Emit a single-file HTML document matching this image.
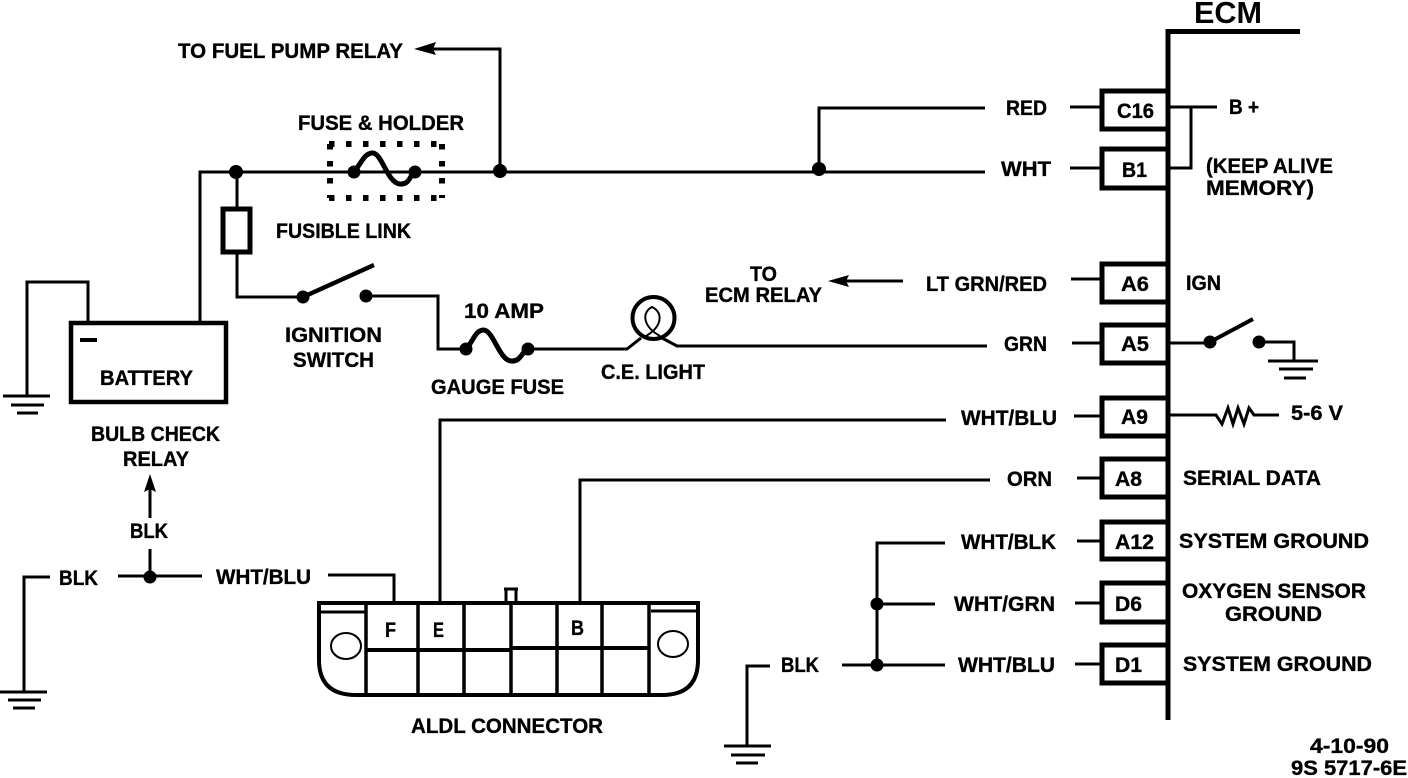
<!DOCTYPE html>
<html><head><meta charset="utf-8"><style>
html,body{margin:0;padding:0;background:#fff;width:1408px;height:778px;overflow:hidden}
svg{display:block}
text{font-family:"Liberation Sans",sans-serif;font-weight:bold;font-size:21px;fill:#000;stroke:#000;stroke-width:.35;}
.w{fill:none;stroke:#000;stroke-width:3}
.t{fill:none;stroke:#000;stroke-width:5}
.g{fill:none;stroke:#000;stroke-width:4}
</style></head><body>
<svg width="1408" height="778" viewBox="0 0 1408 778" xmlns="http://www.w3.org/2000/svg">
<!-- ECM -->
<path d="M1168 720V31.500H1300" fill="none" stroke="#000" stroke-width="5"/>
<text x="1194" y="23" textLength="68" lengthAdjust="spacingAndGlyphs" style="font-size:31px;font-weight:bold;stroke-width:0">ECM</text>
<g class="t">
<path d="M1168 91H1102V129H1168"/><path d="M1168 149H1102V188H1168"/><path d="M1168 264H1102V302H1168"/>
<path d="M1168 325H1102V363H1168"/><path d="M1168 398H1102V436H1168"/><path d="M1168 459H1102V497H1168"/>
<path d="M1168 522H1102V559H1168"/><path d="M1168 583H1102V622H1168"/><path d="M1168 645H1102V683H1168"/>
</g>
<g class="w">
<path d="M1070 107H1102M1070 168H1102M1071 279H1102M1072 343H1102M1074 416H1102M1077 478H1102M1077 541H1102M1075 603H1102M1075 664H1102"/>
<path d="M1170 107H1217M1191 107V168H1170"/>
<path d="M1170 343H1210M1259 342H1294V361"/>
<path d="M1170 415H1216L1222 424L1228 408L1233 424L1238 408L1244 424L1249 408L1254 415H1279"/>
</g>
<path d="M1210 342L1253 319" stroke="#000" stroke-width="4" fill="none"/>
<circle cx="1210" cy="342" r="6.500"/><circle cx="1259" cy="342" r="6.500"/>
<path class="w" d="M1268 361H1318M1279 369H1313M1284 378H1306"/>
<!-- Main wires -->
<g class="w">
<path d="M200 321V172H985"/>
<path d="M500 171V49H430"/>
<path d="M819 169V108H985"/>
<path d="M237 172V207M237 254V297H303"/>
<path d="M366 296H438V349H466"/>
<path d="M528 349H627L641 338"/>
<path d="M662 338L677 346H987"/>
<path d="M88 321V282H27V396"/>
<path d="M903 281H845"/>
<path d="M440 601V420H946"/>
<path d="M580 601V480H990"/>
<path d="M394 601V575H328"/>
<path d="M118 576H202M150 577V549M150 518V488"/>
<path d="M50 577H24V691"/>
<path d="M945 543H877V665M877 604H935M842 665H945"/>
<path d="M770 666H747V745"/>
</g>
<path d="M414 49L436 42L433 49L436 55Z"/><path d="M828 281L849 275L846 281L849 287Z"/><path d="M150 474L144 492L150 489L156 492Z"/>
<g><circle cx="236" cy="172" r="7"/><circle cx="500" cy="171" r="7"/><circle cx="819" cy="169" r="7"/>
<circle cx="150" cy="577" r="6.500"/><circle cx="877" cy="604" r="6.500"/><circle cx="877" cy="665" r="6.500"/>
<circle cx="354" cy="172" r="6.500"/><circle cx="415" cy="172" r="6.500"/><circle cx="303" cy="297" r="6.500"/><circle cx="366" cy="296" r="6.500"/>
<circle cx="466" cy="349" r="6.500"/><circle cx="528" cy="349" r="6.500"/></g>
<!-- Fuses -->
<path d="M354 172C362 162 364 154 372 153C382 152 387 183 400 184C410 185 410 174 415 172" fill="none" stroke="#000" stroke-width="5"/>
<path d="M466 349C474 340 475 331 483 330C493 329 499 360 511 361C521 362 522 351 528 349" fill="none" stroke="#000" stroke-width="5"/>
<path d="M329 144H443M329 198H443M330 144V198M442 144V198" fill="none" stroke="#000" stroke-width="6" stroke-dasharray="5.500 11.500"/>
<!-- Fusible link -->
<rect x="223" y="209" width="27" height="43" class="t"/>
<!-- Ignition arm -->
<path d="M303 297L374 265" stroke="#000" stroke-width="4.500" fill="none"/>
<!-- Bulb -->
<circle cx="653.500" cy="318" r="21" fill="none" stroke="#000" stroke-width="4"/>
<path d="M660 336C642 326 642 312 652 307C663 312 663 326 646 336" fill="none" stroke="#000" stroke-width="2"/>
<!-- Battery -->
<rect x="71" y="323" width="155" height="79" class="g" style="stroke-width:4.500"/>
<path d="M80 340H97" stroke="#000" stroke-width="4"/>
<!-- Grounds -->
<path class="w" d="M3 396H50M11 405H44M17 413H38M0 692H47M8 700H41M13 708H35M724 746H771M731 755H765M736 763H758"/>
<!-- ALDL -->
<path d="M319 603H698V660Q698 695 662 695H356Q319 695 319 660Z" fill="none" stroke="#000" stroke-width="4"/>
<path d="M321 612H365M651 611H697" stroke="#000" stroke-width="3"/>
<path d="M366 603V695M418 603V695M464 603V695M511 603V695M557 603V695M602 603V695M649 603V695" stroke="#000" stroke-width="3.500"/>
<path d="M366 650H510M511 648H649" stroke="#000" stroke-width="4"/>
<ellipse cx="346" cy="646" rx="15" ry="13" class="w" style="stroke-width:2"/>
<ellipse cx="673" cy="644" rx="15" ry="13" class="w" style="stroke-width:2"/>
<path d="M504 589H518M506 589V602M516 589V602" fill="none" stroke="#000" stroke-width="3"/>
<!-- Labels -->
<text x="178" y="58" textLength="225" lengthAdjust="spacingAndGlyphs">TO FUEL PUMP RELAY</text>
<text x="298" y="130" textLength="166" lengthAdjust="spacingAndGlyphs">FUSE &amp; HOLDER</text>
<text x="276" y="238" textLength="135" lengthAdjust="spacingAndGlyphs">FUSIBLE LINK</text>
<text x="285" y="342" textLength="97" lengthAdjust="spacingAndGlyphs">IGNITION</text>
<text x="293" y="367" textLength="81" lengthAdjust="spacingAndGlyphs">SWITCH</text>
<text x="464" y="318" textLength="80" lengthAdjust="spacingAndGlyphs">10 AMP</text>
<text x="431" y="394" textLength="133" lengthAdjust="spacingAndGlyphs">GAUGE FUSE</text>
<text x="601" y="379" textLength="104" lengthAdjust="spacingAndGlyphs">C.E. LIGHT</text>
<text x="100" y="385" textLength="93" lengthAdjust="spacingAndGlyphs">BATTERY</text>
<text x="91" y="441" textLength="129" lengthAdjust="spacingAndGlyphs">BULB CHECK</text>
<text x="123" y="466" textLength="66" lengthAdjust="spacingAndGlyphs">RELAY</text>
<text x="130" y="538" textLength="38" lengthAdjust="spacingAndGlyphs">BLK</text>
<text x="59" y="585" textLength="39" lengthAdjust="spacingAndGlyphs">BLK</text>
<text x="216" y="584" textLength="95" lengthAdjust="spacingAndGlyphs">WHT/BLU</text>
<text x="385" y="637" textLength="11" lengthAdjust="spacingAndGlyphs">F</text>
<text x="433" y="637" textLength="11" lengthAdjust="spacingAndGlyphs">E</text>
<text x="571" y="635" textLength="13" lengthAdjust="spacingAndGlyphs">B</text>
<text x="411" y="733" textLength="192" lengthAdjust="spacingAndGlyphs">ALDL CONNECTOR</text>
<text x="1006" y="115" textLength="41" lengthAdjust="spacingAndGlyphs">RED</text>
<text x="1001" y="176" textLength="50" lengthAdjust="spacingAndGlyphs">WHT</text>
<text x="926" y="291" textLength="121" lengthAdjust="spacingAndGlyphs">LT GRN/RED</text>
<text x="1004" y="351" textLength="43" lengthAdjust="spacingAndGlyphs">GRN</text>
<text x="961" y="425" textLength="96" lengthAdjust="spacingAndGlyphs">WHT/BLU</text>
<text x="1007" y="486" textLength="45" lengthAdjust="spacingAndGlyphs">ORN</text>
<text x="961" y="549" textLength="95" lengthAdjust="spacingAndGlyphs">WHT/BLK</text>
<text x="954" y="611" textLength="101" lengthAdjust="spacingAndGlyphs">WHT/GRN</text>
<text x="958" y="672" textLength="97" lengthAdjust="spacingAndGlyphs">WHT/BLU</text>
<text x="781" y="672" textLength="38" lengthAdjust="spacingAndGlyphs">BLK</text>
<text x="750" y="281" textLength="27" lengthAdjust="spacingAndGlyphs">TO</text>
<text x="705" y="302" textLength="117" lengthAdjust="spacingAndGlyphs">ECM RELAY</text>
<text x="1117" y="118" textLength="37" lengthAdjust="spacingAndGlyphs">C16</text>
<text x="1122" y="177" textLength="25" lengthAdjust="spacingAndGlyphs">B1</text>
<text x="1121" y="291" textLength="28" lengthAdjust="spacingAndGlyphs">A6</text>
<text x="1121" y="351" textLength="28" lengthAdjust="spacingAndGlyphs">A5</text>
<text x="1121" y="424" textLength="27" lengthAdjust="spacingAndGlyphs">A9</text>
<text x="1115" y="486" textLength="27" lengthAdjust="spacingAndGlyphs">A8</text>
<text x="1115" y="549" textLength="39" lengthAdjust="spacingAndGlyphs">A12</text>
<text x="1115" y="611" textLength="27" lengthAdjust="spacingAndGlyphs">D6</text>
<text x="1115" y="672" textLength="27" lengthAdjust="spacingAndGlyphs">D1</text>
<text x="1229" y="114" textLength="30" lengthAdjust="spacingAndGlyphs">B +</text>
<text x="1206" y="173" textLength="127" lengthAdjust="spacingAndGlyphs">(KEEP ALIVE</text>
<text x="1206" y="195" textLength="108" lengthAdjust="spacingAndGlyphs">MEMORY)</text>
<text x="1186" y="290" textLength="35" lengthAdjust="spacingAndGlyphs">IGN</text>
<text x="1291" y="420" textLength="52" lengthAdjust="spacingAndGlyphs">5-6 V</text>
<text x="1183" y="485" textLength="138" lengthAdjust="spacingAndGlyphs">SERIAL DATA</text>
<text x="1179" y="548" textLength="190" lengthAdjust="spacingAndGlyphs">SYSTEM GROUND</text>
<text x="1182" y="598" textLength="184" lengthAdjust="spacingAndGlyphs">OXYGEN SENSOR</text>
<text x="1225" y="621" textLength="97" lengthAdjust="spacingAndGlyphs">GROUND</text>
<text x="1183" y="671" textLength="189" lengthAdjust="spacingAndGlyphs">SYSTEM GROUND</text>
<text x="1310" y="753" textLength="79" lengthAdjust="spacingAndGlyphs">4-10-90</text>
<text x="1291" y="775" textLength="116" lengthAdjust="spacingAndGlyphs">9S 5717-6E</text>
</svg>
</body></html>
